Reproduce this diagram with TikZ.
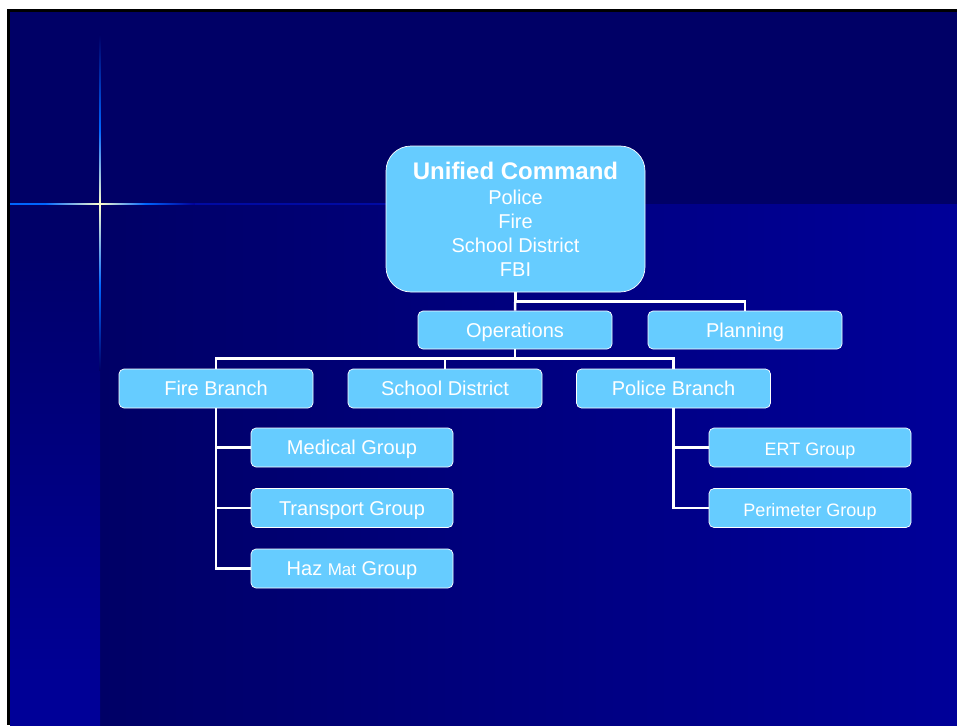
\documentclass[tikz,border=0pt]{standalone}
\usepackage{fontspec}
\setmainfont{Liberation Sans}
\definecolor{navydark}{HTML}{000066}
\definecolor{navylight}{HTML}{000099}
\definecolor{boxblue}{HTML}{66CCFF}
\definecolor{glow}{HTML}{0066FF}
\definecolor{spark}{HTML}{FFFFCC}

\begin{document}
\begin{tikzpicture}[x=1pt,y=-1pt,
   unit/.style={draw=white,line width=0.7pt,fill=boxblue,text=white,
      rounded corners=5pt,minimum width=194pt,minimum height=39pt,
      inner sep=0pt,text height=18pt,text depth=3.5pt,
      font=\fontsize{20}{24}\selectfont},
   group/.style={unit,minimum width=202pt},
   smallgroup/.style={group,text height=19pt,text depth=3pt,
      font=\fontsize{18}{22}\selectfont},
   link/.style={draw=white,line width=2.5pt}]

% slide background
\useasboundingbox (0,0) rectangle (957,725);
\fill[white] (0,0) rectangle (957,725);
\fill[black] (7,9) rectangle (957,725);
\fill[navydark] (10,12) rectangle (957,204);
\shade[left color=navydark,right color=navylight] (100,204) rectangle (957,725);
\shade[top color=navydark,bottom color=navylight] (10,204) rectangle (100,725);

% star
\shade[top color=navydark,bottom color=glow] (99.2,35) rectangle (100.8,130);
\shade[top color=glow,bottom color=spark] (99.2,130) rectangle (100.8,204);
\shade[top color=spark,bottom color=glow] (99.2,204) rectangle (100.8,285);
\shade[top color=glow,bottom color=navydark] (99.2,285) rectangle (100.8,370);
\fill[glow] (10,203.2) rectangle (45,204.8);
\shade[left color=glow,right color=spark] (45,203.2) rectangle (100,204.8);
\shade[left color=spark,right color=glow] (100,203.2) rectangle (145,204.8);
\shade[left color=glow,right color=navylight] (145,203.2) rectangle (195,204.8);
\fill[navylight!90!glow] (195,203.4) rectangle (386,204.6);

\node[unit,rounded corners=25pt,minimum width=259pt,minimum height=146pt,
   align=center,text height=,text depth=] (uc) at (515.5,219)
   {{\fontsize{24}{26}\selectfont\bfseries Unified Command}\\[1pt]
    Police\\ Fire\\ School District\\ FBI};

\node[unit,minimum height=38pt] (ops) at (515,330) {Operations};
\node[unit,minimum height=38pt] (plan) at (745,330) {Planning};

\node[unit] (fire) at (216,388.5) {Fire Branch};
\node[unit] (school) at (445,388.5) {School District};
\node[unit] (police) at (673.5,388.5) {Police Branch};

\node[group] (medical) at (352,447.5) {Medical Group};
\node[group] (transport) at (352,508) {Transport Group};
\node[group] (hazmat) at (352,568.5)
   {Haz {\fontsize{17}{20}\selectfont Mat} Group};

\node[smallgroup] (ert) at (810,447.5) {ERT Group};
\node[smallgroup] (perim) at (810,508) {Perimeter Group};

\draw[link] (uc.south) -- (ops.north);
\draw[link] (uc.south) -- ++(0,9) -| (plan.north);
\foreach \b in {fire,school,police}
   \draw[link] (ops.south) -- ++(0,9) -| (\b.north);
\foreach \g in {medical,transport,hazmat}
   \draw[link] (fire.south) |- (\g.west);
\foreach \g in {ert,perim}
   \draw[link] (police.south) |- (\g.west);

\end{tikzpicture}
\end{document}
